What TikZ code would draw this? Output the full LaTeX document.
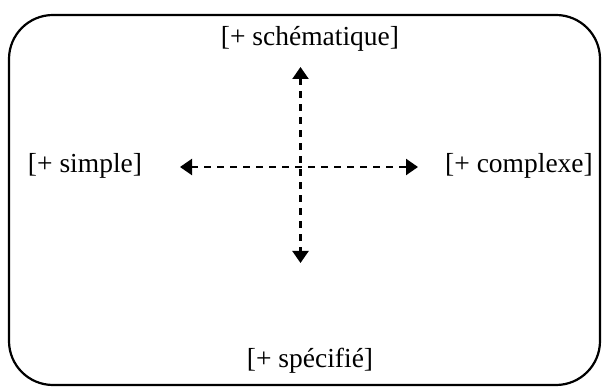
\documentclass[tikz,border=0pt]{standalone}
\usepackage{fontspec}
\setmainfont{Liberation Serif}
\usetikzlibrary{arrows.meta}
\begin{document}
\begin{tikzpicture}[x=1pt,y=-1pt,
  lbl/.style={font=\fontsize{27.5}{30}\selectfont, inner sep=0pt, anchor=center},
  axis/.style={line width=2.2pt, dash pattern=on 7pt off 6pt, {Triangle[length=12pt,width=16pt]}-{Triangle[length=12pt,width=16pt]}},
  frame/.style={line width=2.2pt, rounded corners=44pt}]
\useasboundingbox (0,0) rectangle (602,387);
\draw[frame] (9,15) rectangle (600,385);
\node[lbl] (top) at (310,39) {[+ schématique]};
\node[lbl] (bot) at (310,361) {[+ spécifié]};
\node[lbl] (left) at (85,166) {[+ simple]};
\node[lbl] (right) at (519,166) {[+ complexe]};
\coordinate (hl) at (180,167);
\coordinate (hr) at (418,167);
\coordinate (vt) at (300.5,67);
\coordinate (vb) at (300.5,263);
\draw[axis] (hl) -- (hr);
\draw[axis] (vt) -- (vb);
\end{tikzpicture}
\end{document}
